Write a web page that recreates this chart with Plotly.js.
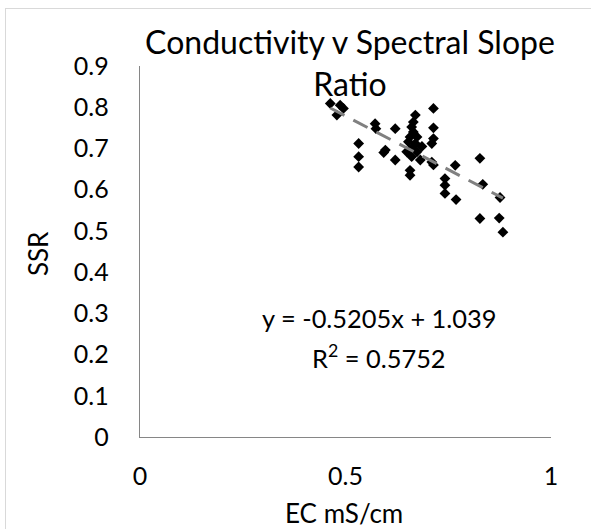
<!DOCTYPE html>
<html><head><meta charset="utf-8">
<script src="https://cdn.plot.ly/plotly-3.0.1.min.js"></script>
<style>
html,body{margin:0;padding:0;background:#fff;}
#chart{position:absolute;left:0;top:0;width:591px;height:529px;}
#frame{position:absolute;left:5px;top:8px;width:600px;height:540px;border:1px solid #d9d9d9;pointer-events:none;}
</style></head>
<body>
<div id="chart"></div>
<div id="frame"></div>
<script>
const ec  = [0.463,0.487,0.495,0.479,0.532,0.532,0.532,0.572,0.574,0.597,0.593,0.621,0.621,
             0.670,0.665,0.661,0.665,0.657,0.674,0.653,0.670,0.661,0.649,0.674,0.661,0.682,0.686,
             0.657,0.657,0.714,0.714,0.714,0.710,0.710,0.714,0.742,0.742,0.742,0.767,0.769,
             0.827,0.834,0.827,0.876,0.874,0.883];
const ssr = [0.809,0.805,0.797,0.781,0.712,0.680,0.655,0.760,0.748,0.696,0.690,0.748,0.672,
             0.781,0.764,0.752,0.740,0.728,0.728,0.716,0.712,0.700,0.692,0.692,0.680,0.672,0.705,
             0.647,0.635,0.797,0.750,0.724,0.712,0.667,0.660,0.627,0.611,0.591,0.659,0.576,
             0.676,0.613,0.530,0.581,0.531,0.497];
const slope = -0.5205, intercept = 1.039;
const xTicks = [0, 0.5, 1];
const yTicks = [0,0.1,0.2,0.3,0.4,0.5,0.6,0.7,0.8,0.9];

const xmin = Math.min(...ec), xmax = Math.max(...ec);
const FONT = 'Lato, "Open Sans", sans-serif';

const data = [
  {x: ec, y: ssr, type:'scatter', mode:'markers',
   marker:{symbol:'diamond', size:8.3, color:'#000'}, hoverinfo:'x+y'},
  {x:[xmin,xmax], y:[slope*xmin+intercept, slope*xmax+intercept], type:'scatter', mode:'lines',
   line:{color:'#808080', width:3, dash:'16px,10px'}}
];

const layout = {
  width:591, height:529, showlegend:false,
  paper_bgcolor:'#fff', plot_bgcolor:'#fff',
  margin:{l:139.5, r:40, t:66, b:92, pad:0},
  font:{family:FONT, color:'#000', size:25},
  title:{text:'Conductivity v Spectral Slope<br>Ratio', font:{family:FONT, size:32, color:'#000'},
         xref:'container', yref:'container', x:350/591, xanchor:'center', y:1-54/529, yanchor:'top'},
  xaxis:{range:[0,1], tickvals:xTicks, ticktext:xTicks.map(String), showgrid:false, zeroline:false,
         showline:true, linecolor:'#868686', linewidth:1.3, ticks:'outside', ticklen:17, tickcolor:'rgba(0,0,0,0)',
         tickfont:{size:25}, fixedrange:true},
  yaxis:{range:[0,0.9], tickvals:yTicks, ticktext:yTicks.map(v=>String(v)), showgrid:false, zeroline:false,
         showline:true, linecolor:'#868686', linewidth:1.3, ticks:'outside', ticklen:25, tickcolor:'rgba(0,0,0,0)',
         tickfont:{size:25}, fixedrange:true},
  annotations:[
    {text:'EC mS/cm', xref:'paper', yref:'paper', x:(344-139.5)/411.5, y:(437.3-513)/371.6,
     showarrow:false, xanchor:'center', yanchor:'middle', font:{size:26}},
    {text:'SSR', xref:'paper', yref:'paper', x:(37.5-139.5)/411.5, y:(437.3-254)/371.6, textangle:-90,
     showarrow:false, xanchor:'center', yanchor:'middle', font:{size:26}},
    {text:'y = -0.5205x + 1.039', xref:'paper', yref:'paper', x:(379-139.5)/411.5, y:(437.3-318.6)/371.6,
     showarrow:false, xanchor:'center', yanchor:'middle', font:{size:25.4}},
    {text:'R<sup>2</sup> = 0.5752', xref:'paper', yref:'paper', x:(379-139.5)/411.5, y:(437.3-355.7)/371.6,
     showarrow:false, xanchor:'center', yanchor:'middle', font:{size:25.4}}
  ]
};
Plotly.newPlot('chart', data, layout, {displayModeBar:false, staticPlot:true});
</script>
</body></html>
